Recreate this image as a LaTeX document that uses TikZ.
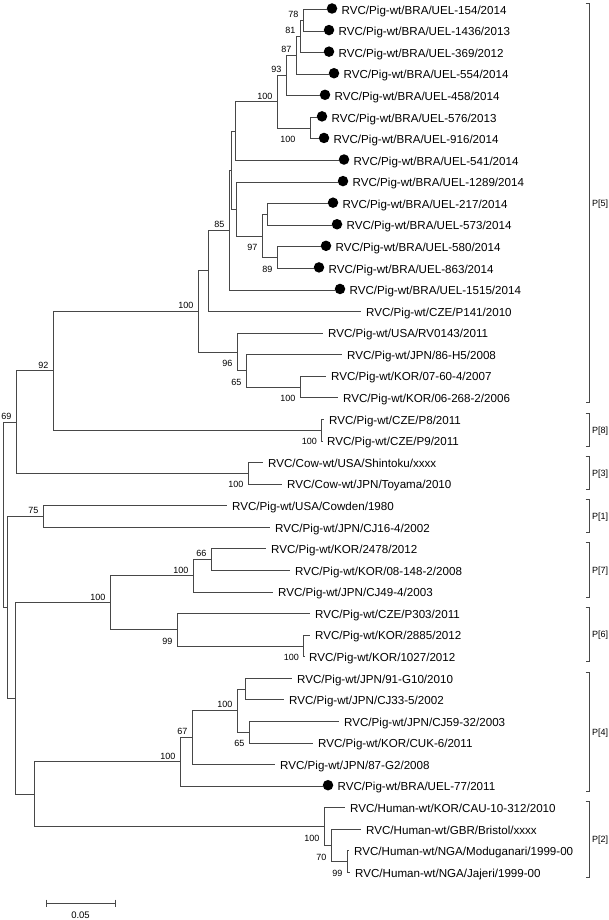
\documentclass[tikz,border=0pt]{standalone}
\usepackage{fontspec}
\setmainfont{Liberation Sans}
\usetikzlibrary{calc}
\newcommand\leaf[4]{%
  \coordinate (#1) at (#3,{9.5+(#2-1)*21.575});
  \node[leaflab] (#1t) at ([xshift=5]#1) {#4};}
\newcommand\leafd[4]{%
  \coordinate (#1) at (#3,{9.5+(#2-1)*21.575});
  \node[dot] (#1d) at ([xshift=5,yshift=1]#1) {};
  \node[leaflab] (#1t) at ([xshift=14.5]#1) {#4};}
\newcommand\inode[4]{%
  \path let \p1=($(#3)!.5!(#4)$) in (#2pt,\y1) coordinate (#1);
  \draw[br] (#1) |- (#3);
  \draw[br] (#1) |- (#4);}
\newcommand\clade[4]{%
  \coordinate (#1t) at (589,{9.5+(#2-1)*21.575-6});
  \coordinate (#1b) at (589,{9.5+(#3-1)*21.575+5});
  \draw[brk] ([xshift=-3.5]#1t) -- (#1t) -- (#1b) -- ([xshift=-3.5]#1b);
  \node[cladelab] (#1l) at ($(#1t)!.5!(#1b)$) {#4};}
\tikzset{
  br/.style={line width=0.9pt, draw=black!72},
  brk/.style={line width=0.9pt, draw=black!72},
  dot/.style={circle, fill=black, inner sep=0pt, minimum size=10.5pt},
  leaflab/.style={font=\fontsize{11.6}{13}\selectfont, inner sep=0pt, anchor=base west, yshift=-4.7},
  bsa/.style={font=\fontsize{9}{10}\selectfont, inner sep=0pt, anchor=south east, xshift=-4.5, yshift=2.5},
  bsb/.style={font=\fontsize{9}{10}\selectfont, inner sep=0pt, anchor=north east, xshift=-4.5, yshift=-8},
  cladelab/.style={font=\fontsize{9}{10}\selectfont, inner sep=0pt, anchor=base west, xshift=3, yshift=-3.3},
}
\begin{document}
\begin{tikzpicture}[x=1pt,y=-1pt]
\useasboundingbox (0,0) rectangle (609,920);
% leaves
\leafd{l1}{1}{327}{RVC/Pig-wt/BRA/UEL-154/2014}
\leafd{l2}{2}{324}{RVC/Pig-wt/BRA/UEL-1436/2013}
\leafd{l3}{3}{324}{RVC/Pig-wt/BRA/UEL-369/2012}
\leafd{l4}{4}{329}{RVC/Pig-wt/BRA/UEL-554/2014}
\leafd{l5}{5}{320}{RVC/Pig-wt/BRA/UEL-458/2014}
\leafd{l6}{6}{317}{RVC/Pig-wt/BRA/UEL-576/2013}
\leafd{l7}{7}{319}{RVC/Pig-wt/BRA/UEL-916/2014}
\leafd{l8}{8}{339}{RVC/Pig-wt/BRA/UEL-541/2014}
\leafd{l9}{9}{338}{RVC/Pig-wt/BRA/UEL-1289/2014}
\leafd{l10}{10}{328}{RVC/Pig-wt/BRA/UEL-217/2014}
\leafd{l11}{11}{332}{RVC/Pig-wt/BRA/UEL-573/2014}
\leafd{l12}{12}{321}{RVC/Pig-wt/BRA/UEL-580/2014}
\leafd{l13}{13}{314}{RVC/Pig-wt/BRA/UEL-863/2014}
\leafd{l14}{14}{335}{RVC/Pig-wt/BRA/UEL-1515/2014}
\leaf{l15}{15}{361}{RVC/Pig-wt/CZE/P141/2010}
\leaf{l16}{16}{323}{RVC/Pig-wt/USA/RV0143/2011}
\leaf{l17}{17}{342}{RVC/Pig-wt/JPN/86-H5/2008}
\leaf{l18}{18}{326}{RVC/Pig-wt/KOR/07-60-4/2007}
\leaf{l19}{19}{338}{RVC/Pig-wt/KOR/06-268-2/2006}
\leaf{l20}{20}{324}{RVC/Pig-wt/CZE/P8/2011}
\leaf{l21}{21}{322}{RVC/Pig-wt/CZE/P9/2011}
\leaf{l22}{22}{263}{RVC/Cow-wt/USA/Shintoku/xxxx}
\leaf{l23}{23}{282}{RVC/Cow-wt/JPN/Toyama/2010}
\leaf{l24}{24}{227}{RVC/Pig-wt/USA/Cowden/1980}
\leaf{l25}{25}{270}{RVC/Pig-wt/JPN/CJ16-4/2002}
\leaf{l26}{26}{266}{RVC/Pig-wt/KOR/2478/2012}
\leaf{l27}{27}{290}{RVC/Pig-wt/KOR/08-148-2/2008}
\leaf{l28}{28}{273}{RVC/Pig-wt/JPN/CJ49-4/2003}
\leaf{l29}{29}{310}{RVC/Pig-wt/CZE/P303/2011}
\leaf{l30}{30}{310}{RVC/Pig-wt/KOR/2885/2012}
\leaf{l31}{31}{304}{RVC/Pig-wt/KOR/1027/2012}
\leaf{l32}{32}{292}{RVC/Pig-wt/JPN/91-G10/2010}
\leaf{l33}{33}{284}{RVC/Pig-wt/JPN/CJ33-5/2002}
\leaf{l34}{34}{339}{RVC/Pig-wt/JPN/CJ59-32/2003}
\leaf{l35}{35}{313}{RVC/Pig-wt/KOR/CUK-6/2011}
\leaf{l36}{36}{275}{RVC/Pig-wt/JPN/87-G2/2008}
\leafd{l37}{37}{323}{RVC/Pig-wt/BRA/UEL-77/2011}
\leaf{l38}{38}{345}{RVC/Human-wt/KOR/CAU-10-312/2010}
\leaf{l39}{39}{361}{RVC/Human-wt/GBR/Bristol/xxxx}
\leaf{l40}{40}{349}{RVC/Human-wt/NGA/Moduganari/1999-00}
\leaf{l41}{41}{350}{RVC/Human-wt/NGA/Jajeri/1999-00}
% internal nodes
\inode{n78}{303}{l1}{l2}
\inode{n81}{300}{n78}{l3}
\inode{n87}{296}{n81}{l4}
\inode{n93}{286}{n87}{l5}
\inode{n100b}{310}{l6}{l7}
\inode{n100a}{277}{n93}{n100b}
\inode{nY}{235.5}{n100a}{l8}
\inode{n217}{267}{l10}{l11}
\inode{n89}{277}{l12}{l13}
\inode{n97}{262}{n217}{n89}
\inode{nZ}{236.5}{l9}{n97}
\inode{nX}{231}{nY}{nZ}
\inode{n85}{229}{nX}{l14}
\inode{nW}{208}{n85}{l15}
\inode{nK1}{300}{l18}{l19}
\inode{n65}{246}{l17}{nK1}
\inode{n96}{237}{l16}{n65}
\inode{n100c}{198}{nW}{n96}
\inode{nP8}{321.5}{l20}{l21}
\inode{n92}{53}{n100c}{nP8}
\inode{nCow}{248}{l22}{l23}
\inode{n69}{16}{n92}{nCow}
\inode{n75}{43}{l24}{l25}
\inode{n66}{211}{l26}{l27}
\inode{nP7}{193}{n66}{l28}
\inode{nK2}{303.5}{l30}{l31}
\inode{n99}{177}{l29}{nK2}
\inode{n100d}{110}{nP7}{n99}
\inode{n100e}{245}{l32}{l33}
\inode{n65b}{249}{l34}{l35}
\inode{n100f}{237}{n100e}{n65b}
\inode{n67}{192}{n100f}{l36}
\inode{n100g}{180}{n67}{l37}
\inode{n99b}{347}{l40}{l41}
\inode{n70}{331}{l39}{n99b}
\inode{nCAU}{324}{l38}{n70}
\inode{n34}{34}{n100g}{nCAU}
\inode{n15}{15}{n100d}{n34}
\inode{nR2}{7}{n75}{n15}
\inode{root}{3}{n69}{nR2}
% bootstrap values
\node[bsa] (b78) at (n78) {78};
\node[bsa] (b81) at (n81) {81};
\node[bsa] (b87) at (n87) {87};
\node[bsa] (b93) at (n93) {93};
\node[bsa] (b100a) at (n100a) {100};
\node[bsb,xshift=-10] (b100b) at (n100b) {100};
\node[bsa] (b85) at (n85) {85};
\node[bsb] (b97) at (n97) {97};
\node[bsb] (b89) at (n89) {89};
\node[bsa] (b100c) at (n100c) {100};
\node[bsb] (b96) at (n96) {96};
\node[bsb] (b65) at (n65) {65};
\node[bsb] (bK1) at (nK1) {100};
\node[bsa] (b92) at (n92) {92};
\node[bsb] (bP8) at (nP8) {100};
\node[bsa] (b69) at (n69) {69};
\node[bsb] (bCow) at (nCow) {100};
\node[bsa] (b75) at (n75) {75};
\node[bsa] (b66) at (n66) {66};
\node[bsa] (bP7) at (nP7) {100};
\node[bsa] (b100d) at (n100d) {100};
\node[bsb] (b99) at (n99) {99};
\node[bsb] (bK2) at (nK2) {100};
\node[bsa] (b100f) at (n100f) {100};
\node[bsb] (b65b) at (n65b) {65};
\node[bsa] (b67) at (n67) {67};
\node[bsa] (b100g) at (n100g) {100};
\node[bsb] (bCAU) at (nCAU) {100};
\node[bsb] (b70) at (n70) {70};
\node[bsb] (b99b) at (n99b) {99};
% clade brackets
\clade{c5}{1}{19}{P[5]}
\clade{c8}{20}{21}{P[8]}
\clade{c3}{22}{23}{P[3]}
\clade{c1}{24}{25}{P[1]}
\clade{c7}{26}{28}{P[7]}
\clade{c6}{29}{31}{P[6]}
\clade{c4}{32}{37}{P[4]}
\clade{c2}{38}{41}{P[2]}
% scale bar
\coordinate (s0) at (46,903);
\coordinate (s1) at (115,903);
\draw[br] (s0) -- (s1);
\draw[br] ([yshift=3.5]s0) -- ([yshift=-3.5]s0);
\draw[br] ([yshift=3.5]s1) -- ([yshift=-3.5]s1);
\node[font=\fontsize{9.5}{10}\selectfont, inner sep=0pt, anchor=base] (sl) at ($(s0)!.5!(s1)+(0,15.5)$) {0.05};
\end{tikzpicture}
\end{document}
